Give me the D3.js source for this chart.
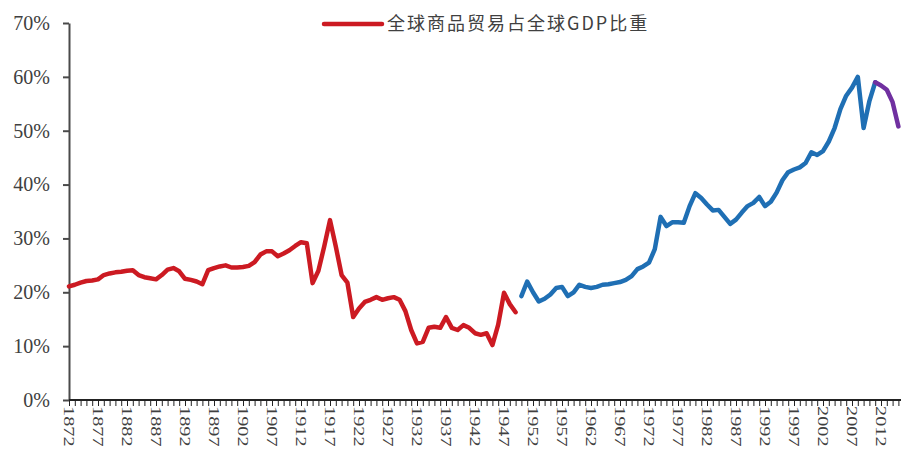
<!DOCTYPE html>
<html>
<head>
<meta charset="utf-8">
<script src="https://cdn.jsdelivr.net/npm/d3@7/dist/d3.min.js"></script>
<style>
  html, body { margin: 0; padding: 0; background: #fff; }
  svg { display: block; }
</style>
</head>
<body>
<svg id="chart" width="901" height="457"></svg>
<script>
// World merchandise trade as a share of world GDP (%), three periods
const earlyYears = d3.range(1872, 1950);   // 1872–1949
const earlyShare = [
  21.1, 21.4, 21.8, 22.1, 22.2, 22.4, 23.2, 23.5, 23.7, 23.8,
  24.0, 24.1, 23.2, 22.8, 22.6, 22.4, 23.2, 24.2, 24.5, 23.9,
  22.5, 22.3, 22.0, 21.5, 24.1, 24.5, 24.8, 25.0, 24.6, 24.6,
  24.7, 24.9, 25.6, 27.0, 27.6, 27.6, 26.7, 27.2, 27.8, 28.6,
  29.3, 29.1, 21.7, 24.0, 28.5, 33.4, 28.5, 23.2, 21.8, 15.4,
  17.0, 18.2, 18.6, 19.1, 18.6, 18.9, 19.1, 18.6, 16.5, 13.0,
  10.5, 10.8, 13.4, 13.6, 13.4, 15.4, 13.4, 13.0, 13.9, 13.4,
  12.4, 12.1, 12.4, 10.2, 14.0, 19.9, 17.8, 16.3
];

const postwarYears = d3.range(1950, 2012); // 1950–2011
const postwarShare = [
  19.3, 22.0, 20.0, 18.3, 18.8, 19.6, 20.8, 21.0, 19.3, 20.0,
  21.4, 21.0, 20.8, 21.0, 21.4, 21.5, 21.7, 21.9, 22.3, 23.0,
  24.3, 24.8, 25.5, 28.0, 34.0, 32.3, 33.0, 33.0, 32.9, 36.0,
  38.4, 37.5, 36.3, 35.2, 35.3, 34.0, 32.7, 33.5, 34.8, 36.0,
  36.6, 37.7, 36.0, 36.8, 38.5, 40.8, 42.3, 42.8, 43.2, 44.0,
  46.0, 45.5, 46.2, 48.0, 50.5, 54.0, 56.5, 58.0, 60.0, 50.5,
  55.5, 59.0
];

const recentYears = d3.range(2011, 2016);  // 2011–2015
const recentShare = [59.0, 58.4, 57.6, 55.3, 50.8];

const yTicks = [0, 10, 20, 30, 40, 50, 60, 70];
const labelYears = d3.range(1872, 2013, 5);
const legendLabel = "全球商品贸易占全球GDP比重";

const svg = d3.select("#chart");

const x = d3.scaleLinear().domain([1872, 2015]).range([69, 898.4]);
const y = d3.scaleLinear().domain([0, 70]).range([400, 23]);

const axisColor = "#4a4a4a";
const textColor = "#404040";
const numFont = "'Liberation Serif', 'Times New Roman', serif";

// y axis
const yAxis = svg.append("g")
  .attr("transform", "translate(69,0)")
  .call(d3.axisLeft(y).tickValues(yTicks).tickSize(6).tickSizeOuter(0)
    .tickFormat(d => d + "%"));
yAxis.select(".domain").attr("stroke", axisColor).attr("stroke-width", 2);
yAxis.selectAll(".tick line").attr("stroke", axisColor).attr("stroke-width", 2);
yAxis.selectAll(".tick text")
  .attr("x", -19)
  .attr("fill", textColor)
  .style("font-family", numFont)
  .style("font-size", "20px");

// x axis: one small tick per year, a label every five years
const xAxis = svg.append("g")
  .attr("transform", "translate(0,400)")
  .call(d3.axisBottom(x).tickValues(d3.range(1872, 2016)).tickSize(6)
    .tickSizeOuter(0).tickFormat(""));
xAxis.select(".domain").attr("stroke", "#222").attr("stroke-width", 2)
  .attr("d", "M69,0H901");
xAxis.selectAll(".tick line").attr("stroke", "#222").attr("stroke-width", 1);

svg.append("g")
  .selectAll("text")
  .data(labelYears)
  .join("text")
  .attr("transform", d => `translate(${x(d)},406) rotate(90) scale(1.45,1)`)
  .attr("dy", "0.35em")
  .attr("fill", textColor)
  .style("font-family", numFont)
  .style("font-size", "14px")
  .text(d => d);

// series lines
const line = d3.line()
  .x(d => x(d[0]))
  .y(d => y(d[1]));

const series = [
  { years: earlyYears, values: earlyShare, color: "#cc1a22" },
  { years: postwarYears, values: postwarShare, color: "#1f6fb4" },
  { years: recentYears, values: recentShare, color: "#7030a0" }
];

svg.append("g")
  .selectAll("path")
  .data(series)
  .join("path")
  .attr("d", s => line(d3.zip(s.years, s.values)))
  .attr("fill", "none")
  .attr("stroke", s => s.color)
  .attr("stroke-width", 4.5)
  .attr("stroke-linejoin", "round")
  .attr("stroke-linecap", "round");

// legend
const legend = svg.append("g");
legend.append("line")
  .attr("x1", 324).attr("x2", 382)
  .attr("y1", 24).attr("y2", 24)
  .attr("stroke", "#cc1a22")
  .attr("stroke-width", 4.5)
  .attr("stroke-linecap", "round");
legend.append("text")
  .attr("x", 387).attr("y", 24)
  .attr("dy", "0.35em")
  .attr("fill", textColor)
  .style("font-family", "'Noto Sans CJK SC', sans-serif")
  .style("font-size", "18px")
  .style("letter-spacing", "2px")
  .text(legendLabel);
</script>
</body>
</html>
